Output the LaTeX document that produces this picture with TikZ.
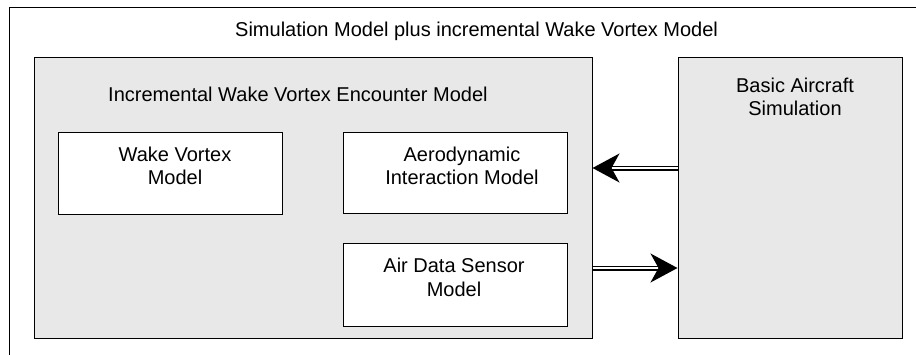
\documentclass[tikz,border=0pt]{standalone}
\usepackage{fontspec}
\setmainfont{Liberation Sans}
\usepackage{xcolor}
\usepackage{tikz}
\usetikzlibrary{arrows.meta, positioning, shadows}
\definecolor{wvgray}{HTML}{E8E8E8}
\definecolor{wvshadow}{HTML}{707070}

\tikzset{
    modelbox/.style={draw=black, line width=1pt, fill=white,
        drop shadow={shadow xshift=1pt, shadow yshift=-1pt, fill=wvshadow, opacity=1}},
    modeltext/.style={inner sep=0pt, align=center, font=\fontsize{20}{23.3}\selectfont},
    dataflow/.style={double=white, double distance=2pt, line width=1.5pt,
        -{Stealth[length=27pt, width=29pt, inset=8pt]}}
}

\begin{document}
\begin{tikzpicture}[x=1pt, y=-1pt]
    \useasboundingbox (0,0) rectangle (916,354);
    \clip (0,0) rectangle (916,354);

    % Outer frame, runs off the page at right and bottom
    \draw[modelbox] (9,7) rectangle (1000,420);

    % Title
    \node[modeltext, anchor=base west] (title) at (235,36.5) {Simulation Model plus incremental Wake Vortex Model};

    % Encounter model - large grey box
    \node[modelbox, fill=wvgray, minimum width=558pt, minimum height=281pt] (enc) at (313,197.5) {};
    \node[modeltext, anchor=base west] (enctitle) at (108,101.5) {Incremental Wake Vortex Encounter Model};

    % Basic simulation - right box
    \node[modelbox, fill=wvgray, minimum width=224pt, minimum height=281pt] (sim) at (790,197.5) {};
    \node[modeltext, below=21pt of sim.north, xshift=5pt] (simtext) {Basic Aircraft\\Simulation};

    % Sub-models
    \node[modelbox, minimum width=224pt, minimum height=82pt] (wvm) at (170,173) {};
    \node[modeltext, below=15.2pt of wvm.north, xshift=5pt] (wvmtext) {Wake Vortex\\Model};

    \node[modelbox, minimum width=224pt, minimum height=81pt] (aim) at (455,172.5) {};
    \node[modeltext, below=15.2pt of aim.north, xshift=7pt] (aimtext) {Aerodynamic\\Interaction Model};

    \node[modelbox, minimum width=224pt, minimum height=83pt] (ads) at (455,284.5) {};
    \node[modeltext, below=15.8pt of ads.north, xshift=-1pt] (adstext) {Air Data Sensor\\Model};

    % Data exchange
    \draw[dataflow] ([yshift=29.5pt]sim.west) -- ([yshift=29.5pt]enc.east);
    \draw[dataflow] ([yshift=-70.5pt]enc.east) -- ([yshift=-70.5pt]sim.west);
\end{tikzpicture}
\end{document}
